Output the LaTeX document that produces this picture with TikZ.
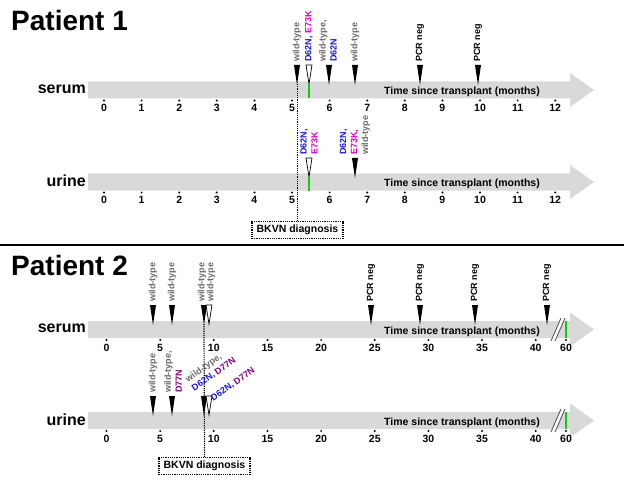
\documentclass[tikz,border=0pt]{standalone}
\usepackage{fontspec}
\setmainfont{Liberation Sans}
\usetikzlibrary{positioning}
\definecolor{bandgray}{RGB}{217,217,217}
\definecolor{wtgray}{RGB}{105,105,105}
\definecolor{dblue}{RGB}{25,25,215}
\definecolor{emag}{RGB}{225,0,200}
\definecolor{dpurp}{RGB}{125,0,135}
\definecolor{gline}{RGB}{20,200,20}
\tikzset{band/.style={fill=bandgray},
  ttl/.style={font=\fontsize{28}{30}\selectfont\bfseries, anchor=west, inner sep=0pt},
  rowlbl/.style={font=\fontsize{16}{18}\selectfont\bfseries, anchor=east, inner sep=0pt},
  axis/.style={font=\fontsize{10.5}{12}\selectfont\bfseries, inner sep=0pt},
  num/.style={font=\fontsize{10.5}{12}\selectfont\bfseries, inner sep=0pt},
  mut/.style={font=\fontsize{9}{11}\selectfont\bfseries, rotate=90, anchor=west, align=left, inner sep=1pt},
  slant/.style={font=\fontsize{9}{11}\selectfont\bfseries, rotate=35, anchor=south west, align=left, inner sep=1pt},
  omk/.style={draw=black, fill=white, line width=0.7pt},
  gl/.style={draw=gline, line width=1.6pt},
  dline/.style={densely dotted, line width=1.2pt},
  dx/.style={draw, densely dotted, line width=1.2pt, font=\fontsize{10.5}{12}\selectfont\bfseries, minimum width=91pt, minimum height=17pt, inner sep=1pt},
  brk/.style={draw=black!65, line width=0.9pt}}

\begin{document}
\begin{tikzpicture}[x=1pt,y=-1pt]
  \useasboundingbox (0,0) rectangle (624,484);
  % time bands
  \foreach \yc [count=\k] in {90,182,329.5,420.5}{
    \fill[band] (88,\yc-8.5) -- (570,\yc-8.5) -- (570,\yc-17) -- (594,\yc) -- (570,\yc+17) -- (570,\yc+8.5) -- (88,\yc+8.5) -- cycle;
    \node[axis] (ax\k) at (462,\yc+2) {Time since transplant (months)};
  }
  % patient 1 months
  \foreach \yc [count=\k] in {90,182}{
    \foreach \m in {0,...,12}{
      \fill (104+37.6*\m,\yc+10.5) circle (1.1);
      \node[num] (n\k-\m) at (104+37.6*\m,\yc+18) {\m};
    }
  }
  % patient 2 months, with axis break
  \foreach \yc [count=\k] in {329.5,420.5}{
    \foreach \m in {0,5,...,40}{
      \fill (106.5+10.73*\m,\yc+10.5) circle (1.1);
      \node[num] (q\k-\m) at (106.5+10.73*\m,\yc+18) {\m};
    }
    \fill (566,\yc+10.5) circle (1.1);
    \node[num] (q\k-60) at (566,\yc+18) {60};
    \fill[white] (551,\yc+11.5) -- (561,\yc-11.5) -- (565,\yc-11.5) -- (555,\yc+11.5) -- cycle;
    \draw[brk] (551,\yc+11.5) -- (561,\yc-11.5) (555,\yc+11.5) -- (565,\yc-11.5);
    \draw[gl] (566,\yc-8.5) -- (566,\yc+8.5);
  }
  % titles and rows
  \node[ttl] (p1) at (11,20) {Patient 1};
  \node[ttl] (p2) at (11,265) {Patient 2};
  \node[rowlbl] (s1) at (86,89) {serum};
  \node[rowlbl] (u1) at (86,181) {urine};
  \node[rowlbl] (s2) at (86,328.5) {serum};
  \node[rowlbl] (u2) at (86,419.5) {urine};
  \draw[line width=1.4pt] (0,245) -- (624,245);
  % BKVN diagnosis
  \node[dx] (bk1) at (297.5,230) {BKVN diagnosis};
  \node[dx] (bk2) at (204.5,466) {BKVN diagnosis};
  \coordinate (d1) at (297.5,84);
  \coordinate (d2) at (204,324);
  \draw[dline] (d1) -- (bk1.north);
  \draw[dline] (d2) -- (bk2.north);
  % sample markers
  \foreach \x/\yt in {297/65, 329/65, 355/65, 420/65, 478/65, 355/158, 153/305, 172/305, 204/305, 371/305, 420/305, 475/305, 547/305, 153/396, 172/396, 204/396}
    \fill (\x-3,\yt) -- (\x+3,\yt) -- (\x,\yt+20) -- cycle;
  \foreach \x/\yt in {309/65, 309/158, 209/305, 209/396}
    \draw[omk] (\x-3,\yt) -- (\x+3,\yt) -- (\x,\yt+19) -- cycle;
  \draw[gl] (309,84) -- (309,98.5);
  \draw[gl] (309,177) -- (309,190.5);
  % patient 1 labels
  \node[mut, text=wtgray] (a1) at (297,63) {wild-type};
  \node[mut] (a2) at (309,63) {\textcolor{dblue}{D62N,} \textcolor{emag}{E73K}};
  \node[mut] (a3) at (328,63) {\textcolor{wtgray}{wild-type,}\\\textcolor{dblue}{D62N}};
  \node[mut, text=wtgray] (a4) at (355,63) {wild-type};
  \node[mut] (a5) at (420,63) {PCR neg};
  \node[mut] (a6) at (478,63) {PCR neg};
  \node[mut] (b1) at (309,156) {\textcolor{dblue}{D62N,}\\\textcolor{emag}{E73K}};
  \node[mut] (b2) at (355,156) {\textcolor{dblue}{D62N,}\\\textcolor{emag}{E73K,}\\\textcolor{wtgray}{wild-type}};
  % patient 2 labels
  \foreach \x [count=\k] in {153,172,202,211}
    \node[mut, text=wtgray] (c\k) at (\x,303) {wild-type};
  \foreach \x [count=\k] in {371,420,475,547}
    \node[mut] (r\k) at (\x,303) {PCR neg};
  \node[mut, text=wtgray] (e1) at (153,394) {wild-type};
  \node[mut] (e2) at (173,394) {\textcolor{wtgray}{wild-type,}\\\textcolor{dpurp}{D77N}};
  \node[slant] (e3) at (195,394) {\textcolor{wtgray}{wild-type,}\\\textcolor{dblue}{D62N,} \textcolor{dpurp}{D77N}};
  \node[slant] (e4) at (214,404) {\textcolor{dblue}{D62N,} \textcolor{dpurp}{D77N}};
\end{tikzpicture}
\end{document}
